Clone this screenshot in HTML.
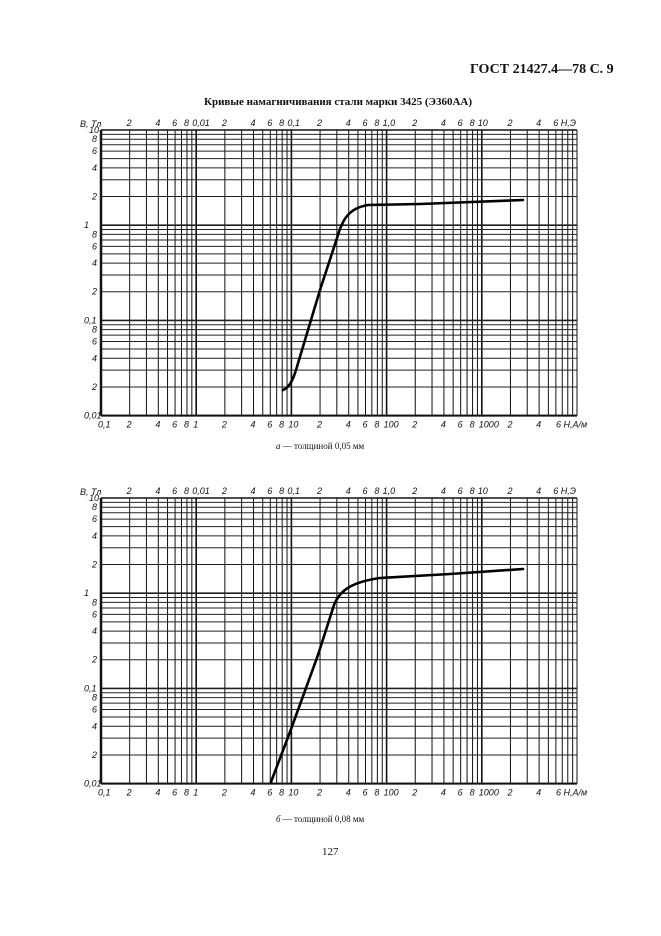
<!DOCTYPE html><html><head><meta charset="utf-8"><style>
body{margin:0;width:661px;height:936px;background:#fff;position:relative;font-family:"Liberation Serif",serif;overflow:hidden}
.t{position:absolute;color:#111;white-space:nowrap}
svg{position:absolute;left:0;top:0}
</style></head><body>
<div class="t" style="left:470px;top:62px;font-size:14px;font-weight:bold">ГОСТ 21427.4—78 С. 9</div>
<div class="t" style="left:204px;top:96px;font-size:11px;font-weight:bold">Кривые намагничивания стали марки 3425 (Э360АА)</div>
<div class="t" style="left:276px;top:441px;font-size:9px;font-style:italic">а <span style="font-style:normal">— толщиной 0,05 мм</span></div>
<div class="t" style="left:276px;top:814px;font-size:9px;font-style:italic">б <span style="font-style:normal">— толщиной 0,08 мм</span></div>
<div class="t" style="left:322px;top:846px;font-size:11px">127</div>
<svg id="s" width="661" height="936" xmlns="http://www.w3.org/2000/svg"></svg>
<script>
var s=document.getElementById('s'),h='';
var L=101,D=95.2,R=L+5*D;
function chart(T,curve){
 var B=T+3*D;
 for(var d=0;d<5;d++)for(var k=1;k<10;k++){var x=L+D*(d+Math.log10(k));var w=(k==1)?1.6:1;h+='<line x1="'+x+'" y1="'+T+'" x2="'+x+'" y2="'+B+'" stroke="#111" stroke-width="'+w+'"/>';}
 h+='<line x1="'+R+'" y1="'+T+'" x2="'+R+'" y2="'+B+'" stroke="#111" stroke-width="1"/>';
 for(var d=0;d<3;d++)for(var k=1;k<10;k++){var y=B-D*(d+Math.log10(k));var w=(k==1)?1.6:1;h+='<line x1="'+L+'" y1="'+y+'" x2="'+R+'" y2="'+y+'" stroke="#222" stroke-width="'+w+'"/>';}
 h+='<line x1="'+L+'" y1="'+T+'" x2="'+R+'" y2="'+T+'" stroke="#111" stroke-width="1.5"/>';
 h+='<line x1="'+L+'" y1="'+B+'" x2="'+R+'" y2="'+B+'" stroke="#111" stroke-width="2"/>';
 h+='<line x1="'+L+'" y1="'+T+'" x2="'+L+'" y2="'+B+'" stroke="#111" stroke-width="2.5"/>';
 var st='font-family:Liberation Sans,sans-serif;font-size:9px;font-style:italic;fill:#111';
 var top=['','2','','4','','6','','8','',];
 var tl=['0,01','0,1','1,0','10'];
 for(var d=0;d<5;d++){[2,4,6,8].forEach(function(k){if(d==4&&k>4)return;var x=L+D*(d+Math.log10(k));h+='<text x="'+(x-3)+'" y="'+(T-4)+'" style="'+st+'">'+k+'</text>';h+='<text x="'+(x-3)+'" y="'+(B+12)+'" style="'+st+'">'+k+'</text>';});}
 for(var d=1;d<5;d++){h+='<text x="'+(L+D*d-4)+'" y="'+(T-4)+'" style="'+st+'">'+tl[d-1]+'</text>';}
 var bl=['0,1','1','10','100','1000'];
 for(var d=0;d<5;d++){h+='<text x="'+(L+D*d-3)+'" y="'+(B+12)+'" style="'+st+'">'+bl[d]+'</text>';}
 h+='<text x="'+(L+D*4.75)+'" y="'+(T-4)+'" style="'+st+'">6  Н,Э</text>';
 h+='<text x="'+(L+D*4.78)+'" y="'+(B+12)+'" style="'+st+'">6 Н,А/м</text>';
 h+='<text x="80" y="'+(T-3)+'" style="'+st+'">B, Тл</text>';
 var ll=['0,01','0,1','1','10'];
 for(var d=0;d<4;d++){h+='<text x="'+(d==3?89:84)+'" y="'+(B-D*d+3)+'" style="'+st+'">'+ll[d]+'</text>';
  if(d<3)[2,4,6,8].forEach(function(k){h+='<text x="92" y="'+(B-D*(d+Math.log10(k))+3)+'" style="'+st+'">'+k+'</text>';});}
 h+='<path d="'+curve+'" fill="none" stroke="#000" stroke-width="2.6" stroke-linecap="round"/>';
}
chart(130,'M283,390 C288,388 292,383 296,370 L320,290 L338,235 C343,218 350,208 368,205 L420,204 L523,200');
chart(498,'M271,782 L290,732 L318,655 L334,605 C340,590 352,582 380,578 L450,574 L523,569');
s.innerHTML=h;
</script>
</body></html>
